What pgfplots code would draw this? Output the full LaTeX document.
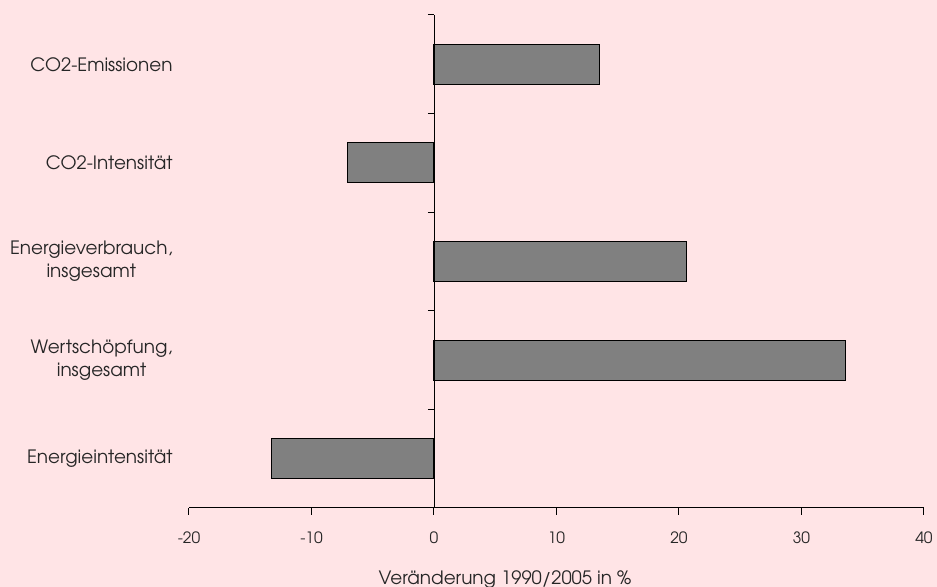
\documentclass[border=0pt]{standalone}
\usepackage{pgfplots}
\pgfplotsset{compat=1.18}
\usepackage{fontspec}
\setmainfont{TeX Gyre Adventor}
\definecolor{bgpink}{RGB}{255,228,230}
\definecolor{bargray}{RGB}{128,128,128}
\pgfplotstableread{
y x
0 -13.3
1 33.6
2 20.6
3 -7.1
4 13.5
}\datatable
\begin{document}
\begin{tikzpicture}
\path[use as bounding box, fill=bgpink] (-94.5pt,-39.5pt) rectangle (374pt,254pt);
\begin{axis}[
 at={(0,0)}, anchor=south west, scale only axis,
 width=367.5pt, height=246.5pt,
 xmin=-20, xmax=40, ymin=-0.5, ymax=4.5,
 axis x line=bottom, axis y line=left,
 x axis line style={-, line width=0.5pt},
 y axis line style={draw=none},
 xtick={-20,-10,...,40},
 ytick={0,1,2,3,4},
 yticklabels={Energieintensität, {Wertschöpfung,\\insgesamt}, {Energieverbrauch,\\insgesamt}, CO2-Intensität, CO2-Emissionen},
 y tick style={draw=none},
 major tick length=3.5pt,
 tick align=outside,
 x tick style={black, line width=0.5pt},
 xticklabel style={font=\fontsize{7.8}{9}\selectfont, inner sep=0pt, anchor=north, yshift=-8pt, text=black!85},
 yticklabel style={font=\fontsize{9.2}{11.5}\selectfont, inner sep=0pt, anchor=east, align=center, xshift=-4.5pt, text=black!85},
 /pgf/number format/assume math mode=true,
 xlabel={Veränderung 1990/2005 in \%},
 xlabel style={font=\fontsize{9.2}{11.5}\selectfont, at={(rel axis cs:0.4300,0)}, anchor=north, inner sep=0pt, yshift=-31pt, text=black!85},
 xbar, bar width=20pt,
]
\addplot[fill=bargray, draw=black, line width=0.5pt] table[x=x, y=y] {\datatable};
\end{axis}
\begin{axis}[
 at={(0,0)}, anchor=south west, scale only axis,
 width=367.5pt, height=246.5pt,
 xmin=-20, xmax=40, ymin=-0.5, ymax=4.5,
 axis x line=none, axis y line=middle,
 y axis line style={-, line width=0.5pt},
 ytick={-0.5,0.5,...,4.5},
 yticklabel=\empty,
 y tick style={black, line width=0.5pt},
 tick align=outside, major tick length=3pt,
]
\end{axis}
\end{tikzpicture}
\end{document}
